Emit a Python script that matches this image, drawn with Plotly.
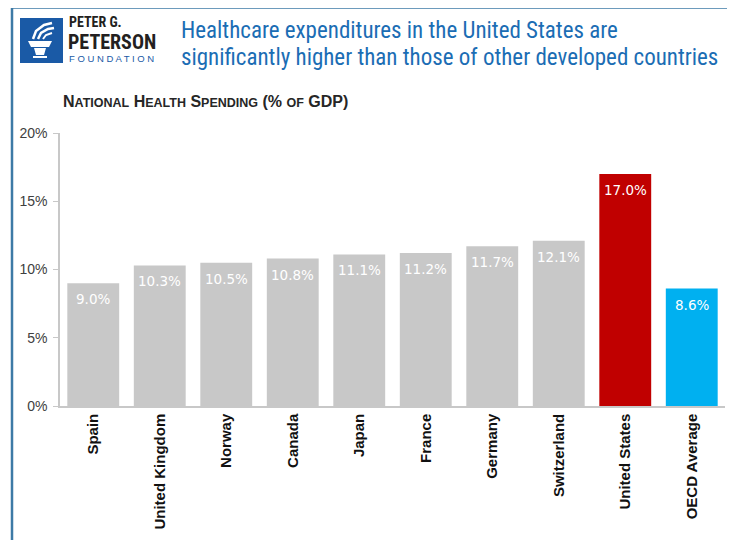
import plotly.graph_objects as go

countries = ["Spain", "United Kingdom", "Norway", "Canada", "Japan", "France",
             "Germany", "Switzerland", "United States", "OECD Average"]
spending = [9.0, 10.3, 10.5, 10.8, 11.1, 11.2, 11.7, 12.1, 17.0, 8.6]
bar_colors = ["#c8c8c8"] * 8 + ["#c00000", "#00b0f0"]
y_ticks = [0, 5, 10, 15, 20]
y_tick_labels = ["0%", "5%", "10%", "15%", "20%"]

OFF = 8  # page body margin
W, H = 735 - OFF, 540 - OFF
L, R, T, B = 60, 725, 133, 406  # plot area in screen pixels


def px(x):
    return (x - L) / (R - L)


def py(y):
    return (B - y) / (B - T)


def path(points, close=True):
    s = "M " + " L ".join(f"{px(x):.5f},{py(y):.5f}" for x, y in points)
    return s + (" Z" if close else "")


fig = go.Figure()
fig.add_trace(go.Bar(
    x=countries, y=spending, marker_color=bar_colors, marker_line_width=0,
    hoverinfo="skip", showlegend=False,
))

annotations = []
for c, v in zip(countries, spending):
    annotations.append(dict(
        x=c, y=v, xref="x", yref="y", text=f"{v:.1f}%", showarrow=False,
        yshift=-16, font=dict(family="DejaVu Sans", size=13.5, color="white"),
    ))

title_font = "Roboto Condensed, Liberation Sans Narrow, Liberation Sans, sans-serif"
sub = "<span style='font-size:12.5px'>"
annotations += [
    dict(x=px(179), y=py(30), xref="paper", yref="paper", xanchor="left", yanchor="middle",
         text="Healthcare expenditures in the United States are", showarrow=False,
         font=dict(family=title_font, size=23, color="#1b6db4")),
    dict(x=px(179), y=py(57), xref="paper", yref="paper", xanchor="left", yanchor="middle",
         text="significantly higher than those of other developed countries", showarrow=False,
         font=dict(family=title_font, size=23, color="#1b6db4")),
    dict(x=px(67), y=py(22), xref="paper", yref="paper", xanchor="left", yanchor="middle",
         text="<b>PETER G.</b>", showarrow=False,
         font=dict(family=title_font, size=14, color="#231f20")),
    dict(x=px(66), y=py(42), xref="paper", yref="paper", xanchor="left", yanchor="middle",
         text="<b>PETERSON</b>", showarrow=False,
         font=dict(family=title_font, size=20, color="#231f20")),
    dict(x=px(67), y=py(58.5), xref="paper", yref="paper", xanchor="left", yanchor="middle",
         text="F O U N D A T I O N", showarrow=False,
         font=dict(family="Liberation Sans", size=9.5, color="#1a5aa6")),
    dict(x=px(61), y=py(101), xref="paper", yref="paper", xanchor="left", yanchor="middle",
         text=(f"<b>N{sub}ATIONAL</span> H{sub}EALTH</span> "
               f"S{sub}PENDING</span> (% {sub}OF</span> GDP)</b>"),
         showarrow=False,
         font=dict(family="Liberation Sans", size=16, color="#262626")),
]

frame_color = "#3d7aa6"
shapes = [
    # frame
    dict(type="line", xref="paper", yref="paper", x0=px(12), x1=px(12), y0=py(8), y1=py(560),
         line=dict(color=frame_color, width=2.5)),
    dict(type="line", xref="paper", yref="paper", x0=px(12), x1=px(731), y0=py(8), y1=py(8),
         line=dict(color=frame_color, width=1.5)),
    dict(type="line", xref="paper", yref="paper", x0=px(731), x1=px(731), y0=py(8), y1=py(560),
         line=dict(color=frame_color, width=1.5)),
    # logo square
    dict(type="rect", xref="paper", yref="paper", x0=px(20), x1=px(63), y0=py(63), y1=py(18),
         fillcolor="#1a5aa6", line=dict(width=0)),
    # torch cup
    dict(type="path", xref="paper", yref="paper",
         path=path([(28, 41), (52, 41), (49, 47), (31, 47)]),
         fillcolor="white", line=dict(width=0)),
    dict(type="path", xref="paper", yref="paper",
         path=path([(34, 48), (46, 48), (44, 55), (36, 55)]),
         fillcolor="white", line=dict(width=0)),
    dict(type="path", xref="paper", yref="paper",
         path=path([(33, 56), (47, 56), (47, 58), (33, 58)]),
         fillcolor="white", line=dict(width=0)),
    # flame strokes
    dict(type="path", xref="paper", yref="paper",
         path=path([(33, 39), (36, 31), (44, 25), (52, 23)], close=False),
         line=dict(color="white", width=2.5)),
    dict(type="path", xref="paper", yref="paper",
         path=path([(38, 39), (41, 33), (48, 29), (54, 28)], close=False),
         line=dict(color="white", width=2.5)),
    dict(type="path", xref="paper", yref="paper",
         path=path([(43, 39), (46, 35), (52, 33)], close=False),
         line=dict(color="white", width=2)),
]

fig.update_layout(
    width=W, height=H,
    margin=dict(l=L - OFF, r=W - (R - OFF), t=T - OFF, b=H - (B - OFF), pad=0),
    paper_bgcolor="white", plot_bgcolor="white",
    bargap=0.22,
    annotations=annotations, shapes=shapes,
    xaxis=dict(
        showgrid=False, showline=True, linecolor="#c8c8c8", linewidth=1.5,
        tickangle=-90, ticks="", tickfont=dict(family="Liberation Sans", size=15, color="#111111"),
        tickprefix="<b>", ticksuffix="</b>", fixedrange=True,
    ),
    yaxis=dict(
        range=[0, 20], tickvals=y_ticks, ticktext=y_tick_labels,
        showgrid=False, showline=True, linecolor="#c8c8c8", linewidth=1.5,
        ticks="outside", ticklen=5, tickcolor="#c8c8c8", zeroline=False, ticklabelstandoff=3,
        tickfont=dict(family="Liberation Sans", size=14, color="#404040"), fixedrange=True,
    ),
)

fig.write_html("out.html")
